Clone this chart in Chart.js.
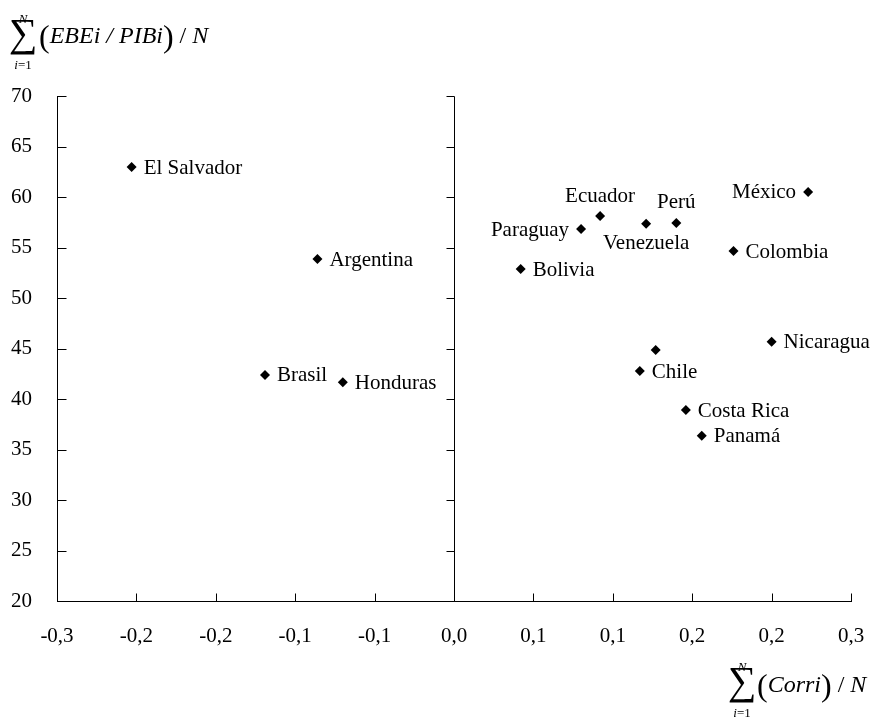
<!DOCTYPE html>
<html>
<head>
<meta charset="utf-8">
<script src="https://cdn.jsdelivr.net/npm/chart.js@4.4.1/dist/chart.umd.min.js"></script>
<style>
  body { margin: 0; background: #fff; }
</style>
</head>
<body>
<canvas id="chart" width="871" height="720"></canvas>
<script>
const countries = ['El Salvador', 'Argentina', 'Brasil', 'Honduras', 'Paraguay', 'Ecuador', 'Venezuela', 'Perú',
    'México', 'Colombia', 'Bolivia', '', 'Chile', 'Nicaragua', 'Costa Rica', 'Panamá'];
const corrValues = [-0.203, -0.086, -0.119, -0.070, 0.080, 0.092, 0.121, 0.140,
    0.223, 0.176, 0.042, 0.127, 0.117, 0.200, 0.146, 0.156];
const ebeValues = [62.97, 53.86, 42.38, 41.65, 56.83, 58.12, 57.36, 57.43,
    60.50, 54.65, 52.87, 44.85, 42.77, 45.67, 38.91, 36.37];
// where each country name sits relative to its marker
const labelSides = ['right', 'right', 'right', 'right', 'left', 'above', 'below', 'above',
    'left', 'right', 'right', 'none', 'right', 'right', 'right', 'right'];

const xTickValues = [-0.25, -0.2, -0.15, -0.1, -0.05, 0, 0.05, 0.1, 0.15, 0.2, 0.25];
const xTickLabels = ['-0,3', '-0,2', '-0,2', '-0,1', '-0,1', '0,0', '0,1', '0,1', '0,2', '0,2', '0,3'];
const yTickValues = [20, 25, 30, 35, 40, 45, 50, 55, 60, 65, 70];

const serif = "'Liberation Serif', 'Times New Roman', serif";

const points = corrValues.map((x, i) => ({ x: x, y: ebeValues[i] }));

// draws runs of text one after another: [text, font]
function drawRuns(ctx, x, y, runs) {
    runs.forEach(function(run) {
        ctx.font = run[1];
        ctx.fillText(run[0], x, y);
        x += ctx.measureText(run[0]).width;
    });
    return x;
}

function drawSum(ctx, cx, baseY) {
    ctx.textAlign = 'center';
    ctx.font = '40px ' + serif;
    ctx.fillText('\u2211', cx, baseY);
    ctx.font = 'italic 13px ' + serif;
    ctx.fillText('N', cx, baseY - 23);
    ctx.textAlign = 'left';
    ctx.font = 'italic 13px ' + serif;
    const wi = ctx.measureText('i').width;
    ctx.font = '13px ' + serif;
    const wr = ctx.measureText('=1').width;
    const start = cx - (wi + wr) / 2;
    drawRuns(ctx, start, baseY + 23, [['i', 'italic 13px ' + serif], ['=1', '13px ' + serif]]);
}

const axisPlugin = {
    id: 'axisPlugin',
    afterDraw(chart) {
        const ctx = chart.ctx;
        const xs = chart.scales.x;
        const ys = chart.scales.y;
        const area = chart.chartArea;
        const x0 = Math.round(xs.getPixelForValue(0)) + 0.5;
        const left = Math.round(area.left) + 0.5;
        const bottom = Math.round(area.bottom) + 0.5;

        ctx.save();
        ctx.strokeStyle = '#000';
        ctx.lineWidth = 1;
        ctx.beginPath();
        // vertical line at x = 0
        ctx.moveTo(x0, Math.round(area.top) + 0.5);
        ctx.lineTo(x0, bottom);
        yTickValues.forEach(function(v) {
            const y = Math.round(ys.getPixelForValue(v)) + 0.5;
            ctx.moveTo(left, y);
            ctx.lineTo(left + 9, y);
            ctx.moveTo(x0, y);
            ctx.lineTo(x0 - 8, y);
        });
        xTickValues.forEach(function(v) {
            const x = Math.round(xs.getPixelForValue(v)) + 0.5;
            ctx.moveTo(x, bottom);
            ctx.lineTo(x, bottom - 8);
        });
        ctx.stroke();

        // axis titles
        ctx.fillStyle = '#000';
        ctx.textBaseline = 'alphabetic';
        drawSum(ctx, 23, 46);
        ctx.textAlign = 'left';
        let x = drawRuns(ctx, 39, 47, [['(', '32px ' + serif]]);
        x = drawRuns(ctx, x, 43, [['EBEi / PIBi', 'italic 24px ' + serif]]);
        x = drawRuns(ctx, x, 47, [[')', '32px ' + serif]]);
        drawRuns(ctx, x, 43, [[' / ', '24px ' + serif], ['N', 'italic 24px ' + serif]]);

        drawSum(ctx, 742, 694);
        ctx.textAlign = 'left';
        x = drawRuns(ctx, 757, 696, [['(', '32px ' + serif]]);
        x = drawRuns(ctx, x, 692, [['Corri', 'italic 24px ' + serif]]);
        x = drawRuns(ctx, x, 696, [[')', '32px ' + serif]]);
        drawRuns(ctx, x, 692, [[' / ', '24px ' + serif], ['N', 'italic 24px ' + serif]]);
        ctx.restore();
    }
};

const pointLabelPlugin = {
    id: 'pointLabels',
    afterDatasetsDraw(chart) {
        const ctx = chart.ctx;
        const meta = chart.getDatasetMeta(0);
        ctx.save();
        ctx.fillStyle = '#000';
        ctx.font = '21px ' + serif;
        ctx.textBaseline = 'middle';
        meta.data.forEach(function(pt, i) {
            const side = labelSides[i];
            if (side === 'none' || !countries[i]) return;
            if (side === 'right') {
                ctx.textAlign = 'left';
                ctx.fillText(countries[i], pt.x + 12, pt.y + 1);
            } else if (side === 'left') {
                ctx.textAlign = 'right';
                ctx.fillText(countries[i], pt.x - 12, pt.y + 1);
            } else if (side === 'above') {
                ctx.textAlign = 'center';
                ctx.fillText(countries[i], pt.x, pt.y - 20);
            } else {
                ctx.textAlign = 'center';
                ctx.fillText(countries[i], pt.x, pt.y + 20);
            }
        });
        ctx.restore();
    }
};

const chart = new Chart(document.getElementById('chart').getContext('2d'), {
    type: 'scatter',
    data: {
        datasets: [{
            label: 'Países',
            data: points,
            pointStyle: 'rectRot',
            pointRadius: 5,
            pointHoverRadius: 5,
            backgroundColor: '#000',
            borderColor: '#000',
            borderWidth: 0
        }]
    },
    options: {
        responsive: false,
        animation: false,
        layout: { padding: { left: 0, top: 96, right: 20, bottom: 0 } },
        plugins: {
            legend: { display: false },
            tooltip: { enabled: false }
        },
        scales: {
            x: {
                type: 'linear',
                min: -0.25,
                max: 0.25,
                afterBuildTicks: function(scale) {
                    scale.ticks = xTickValues.map(v => ({ value: v }));
                },
                afterFit: function(scale) {
                    scale.height = 119;
                    scale.paddingLeft = 0;
                    scale.paddingRight = 0;
                },
                grid: { display: false, drawTicks: false },
                border: { display: true, color: '#000', width: 1 },
                ticks: {
                    autoSkip: false,
                    maxRotation: 0,
                    padding: 23,
                    color: '#000',
                    font: { family: serif, size: 21 },
                    callback: (value, index) => xTickLabels[index]
                }
            },
            y: {
                type: 'linear',
                min: 20,
                max: 70,
                afterBuildTicks: function(scale) {
                    scale.ticks = yTickValues.map(v => ({ value: v }));
                },
                afterFit: function(scale) { scale.width = 57; },
                grid: { display: false, drawTicks: false },
                border: { display: true, color: '#000', width: 1 },
                ticks: {
                    padding: 25,
                    color: '#000',
                    font: { family: serif, size: 21 }
                }
            }
        }
    },
    plugins: [axisPlugin, pointLabelPlugin]
});
</script>
</body>
</html>
